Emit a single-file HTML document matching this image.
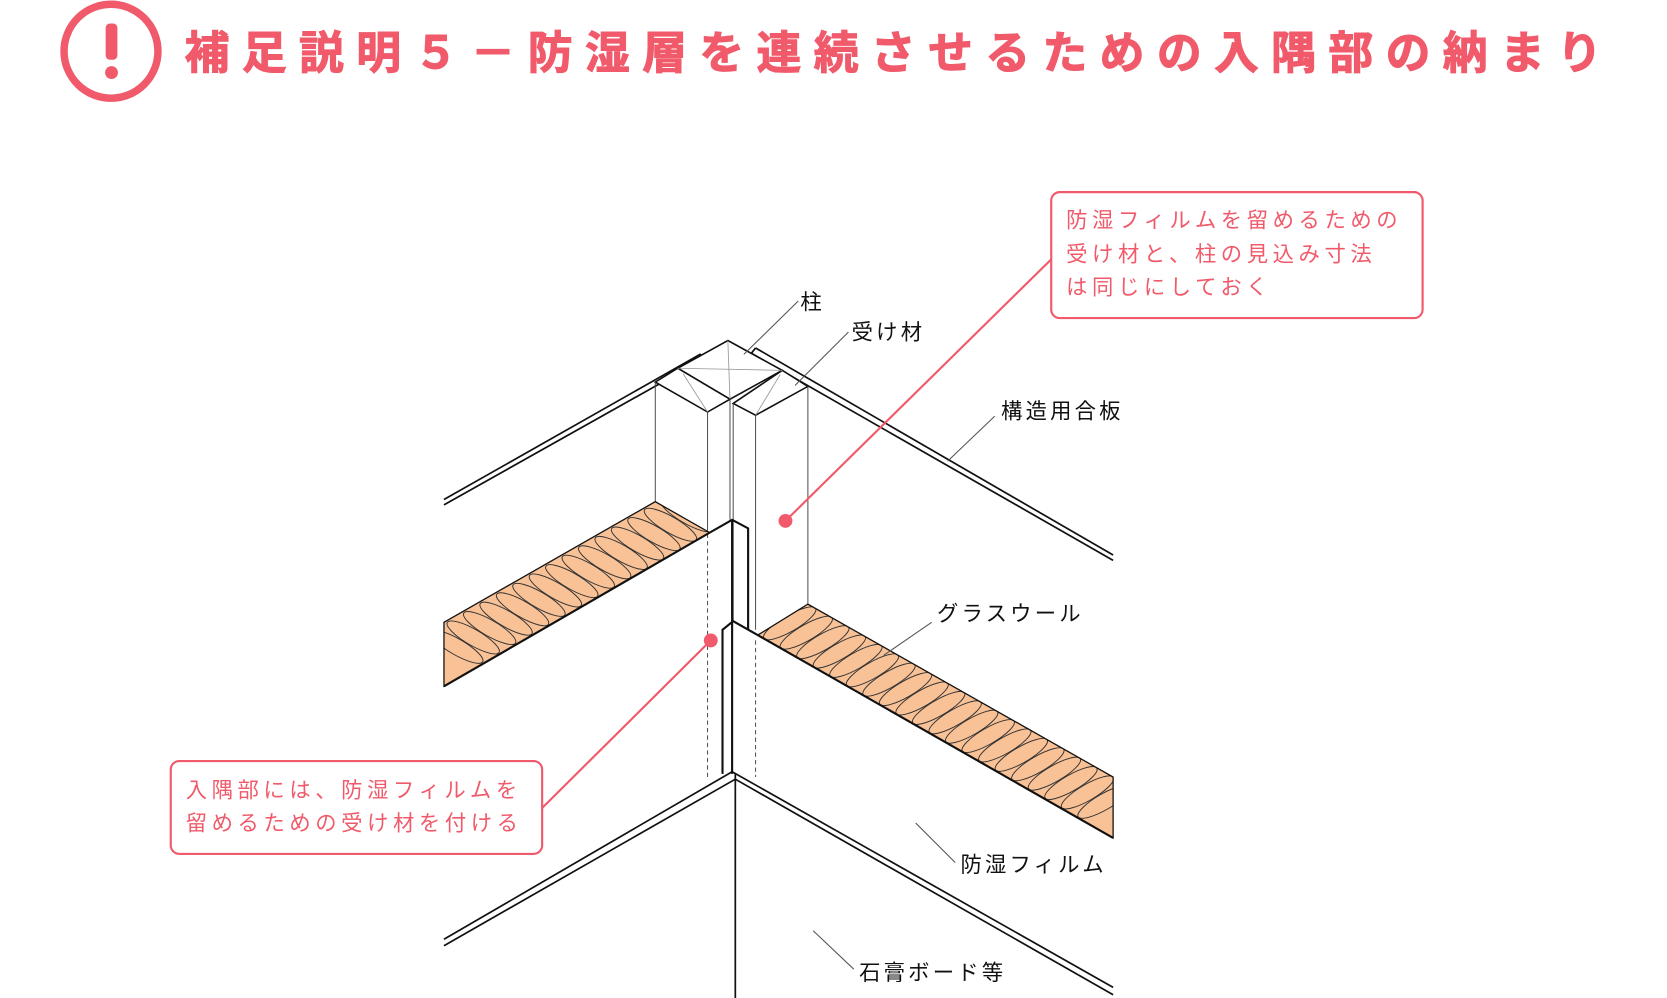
<!DOCTYPE html>
<html><head><meta charset="utf-8"><style>
html,body{margin:0;padding:0;background:#fff;}
svg{display:block}
text{font-family:"Liberation Sans","Noto Sans CJK JP",sans-serif;}
</style></head><body>
<svg width="1667" height="998" viewBox="0 0 1562 935" preserveAspectRatio="none" xmlns="http://www.w3.org/2000/svg">
<defs>
<clipPath id="cl"><polygon points="416,583 614,470 665,499 416,643"/></clipPath>
<clipPath id="cr"><polygon points="710,595 757,566 1043,728 1043,785"/></clipPath>
</defs>
<!-- title -->
<circle cx="104" cy="48" r="44" fill="none" stroke="#f05a6a" stroke-width="7"/>
<rect x="99" y="22" width="11" height="34" rx="4" fill="#f05a6a"/>
<circle cx="104.5" cy="68" r="6" fill="#f05a6a"/>
<text x="173" y="64" font-size="42" font-weight="bold" fill="#f05a6a" letter-spacing="11.6" stroke="#f05a6a" stroke-width="1">補足説明５－防湿層を連続させるための入隅部の納まり</text>

<g fill="none" stroke="#111" stroke-width="1.6">
<polyline points="416,468 656,332 660,336 416,473"/>
<polyline points="708,326 1043,520"/>
<polyline points="704,331 1043,525"/>
<polyline points="708,326 704,331"/>
</g>
<g fill="#fff" stroke="#111" stroke-width="1.5">
<polygon points="682,319 733,347 684,374 635,345"/>
<polygon points="614,358 635,345 684,374 663,386"/>
<polygon points="687,378 733,347 757,362 708,389"/>
</g>
<g stroke="#999" stroke-width="0.8" fill="none">
<line x1="682" y1="319" x2="684" y2="374"/>
<line x1="635" y1="345" x2="733" y2="347"/>
<line x1="640" y1="350" x2="663" y2="386"/>
<line x1="731" y1="351" x2="708" y2="389"/>
</g>
<g stroke="#444" stroke-width="0.9" fill="none">
<line x1="614" y1="358" x2="614" y2="470"/>
<line x1="663" y1="386" x2="663" y2="497"/>
<line x1="684" y1="374" x2="684" y2="487"/>
<line x1="687" y1="378" x2="687" y2="582"/>
<line x1="708" y1="389" x2="708" y2="590"/>
<line x1="757" y1="362" x2="757" y2="566"/>
<line x1="663" y1="500" x2="663" y2="728" stroke-dasharray="4,3"/>
<line x1="708" y1="600" x2="708" y2="728" stroke-dasharray="4,3"/>
</g>
<!-- insulation left -->
<polygon points="416,583 614,470 665,499 416,643" fill="#f9c196"/>
<g clip-path="url(#cl)" fill="none" stroke="#333" stroke-width="0.9">
<g transform="translate(428,606)"><ellipse rx="28" ry="7.5" transform="rotate(30)"/></g>
<g transform="translate(443.4,597.2)"><ellipse rx="28" ry="7.5" transform="rotate(30)"/></g>
<g transform="translate(458.8,588.4)"><ellipse rx="28" ry="7.5" transform="rotate(30)"/></g>
<g transform="translate(474.2,579.6)"><ellipse rx="28" ry="7.5" transform="rotate(30)"/></g>
<g transform="translate(489.6,570.8)"><ellipse rx="28" ry="7.5" transform="rotate(30)"/></g>
<g transform="translate(505,562)"><ellipse rx="28" ry="7.5" transform="rotate(30)"/></g>
<g transform="translate(520.4,553.2)"><ellipse rx="28" ry="7.5" transform="rotate(30)"/></g>
<g transform="translate(535.8,544.4)"><ellipse rx="28" ry="7.5" transform="rotate(30)"/></g>
<g transform="translate(551.2,535.6)"><ellipse rx="28" ry="7.5" transform="rotate(30)"/></g>
<g transform="translate(566.6,526.8)"><ellipse rx="28" ry="7.5" transform="rotate(30)"/></g>
<g transform="translate(582,518)"><ellipse rx="28" ry="7.5" transform="rotate(30)"/></g>
<g transform="translate(597.4,509.2)"><ellipse rx="28" ry="7.5" transform="rotate(30)"/></g>
<g transform="translate(612.8,500.4)"><ellipse rx="28" ry="7.5" transform="rotate(30)"/></g>
<g transform="translate(628.2,491.6)"><ellipse rx="28" ry="7.5" transform="rotate(30)"/></g>
<g transform="translate(643.6,482.8)"><ellipse rx="28" ry="7.5" transform="rotate(30)"/></g>
</g>
<polygon points="416,583 614,470 665,499 416,643" fill="none" stroke="#111" stroke-width="1.2"/>
<line x1="416" y1="643" x2="665" y2="499" stroke="#111" stroke-width="2"/>
<!-- insulation right -->
<polygon points="710,595 757,566 1043,728 1043,785" fill="#f9c196"/>
<g clip-path="url(#cr)" fill="none" stroke="#333" stroke-width="0.9">
<g transform="translate(740,584)"><ellipse rx="28" ry="7.5" transform="rotate(-30)"/></g>
<g transform="translate(755.5,592.8)"><ellipse rx="28" ry="7.5" transform="rotate(-30)"/></g>
<g transform="translate(771,601.6)"><ellipse rx="28" ry="7.5" transform="rotate(-30)"/></g>
<g transform="translate(786.5,610.4)"><ellipse rx="28" ry="7.5" transform="rotate(-30)"/></g>
<g transform="translate(802,619.2)"><ellipse rx="28" ry="7.5" transform="rotate(-30)"/></g>
<g transform="translate(817.5,628)"><ellipse rx="28" ry="7.5" transform="rotate(-30)"/></g>
<g transform="translate(833,636.8)"><ellipse rx="28" ry="7.5" transform="rotate(-30)"/></g>
<g transform="translate(848.5,645.6)"><ellipse rx="28" ry="7.5" transform="rotate(-30)"/></g>
<g transform="translate(864,654.4)"><ellipse rx="28" ry="7.5" transform="rotate(-30)"/></g>
<g transform="translate(879.5,663.2)"><ellipse rx="28" ry="7.5" transform="rotate(-30)"/></g>
<g transform="translate(895,672)"><ellipse rx="28" ry="7.5" transform="rotate(-30)"/></g>
<g transform="translate(910.5,680.8)"><ellipse rx="28" ry="7.5" transform="rotate(-30)"/></g>
<g transform="translate(926,689.6)"><ellipse rx="28" ry="7.5" transform="rotate(-30)"/></g>
<g transform="translate(941.5,698.4)"><ellipse rx="28" ry="7.5" transform="rotate(-30)"/></g>
<g transform="translate(957,707.2)"><ellipse rx="28" ry="7.5" transform="rotate(-30)"/></g>
<g transform="translate(972.5,716)"><ellipse rx="28" ry="7.5" transform="rotate(-30)"/></g>
<g transform="translate(988,724.8)"><ellipse rx="28" ry="7.5" transform="rotate(-30)"/></g>
<g transform="translate(1003.5,733.6)"><ellipse rx="28" ry="7.5" transform="rotate(-30)"/></g>
<g transform="translate(1019,742.4)"><ellipse rx="28" ry="7.5" transform="rotate(-30)"/></g>
<g transform="translate(1034.5,751.2)"><ellipse rx="28" ry="7.5" transform="rotate(-30)"/></g>
</g>
<polygon points="710,595 757,566 1043,728 1043,785" fill="none" stroke="#111" stroke-width="1.2"/>
<line x1="710" y1="595" x2="1043" y2="785" stroke="#111" stroke-width="2"/>
<!-- film -->
<g fill="none" stroke="#111" stroke-width="2">
<polyline points="665,499 686,487 701,495 701,590"/>
<polyline points="677,725 677,590 687,582 710,595"/>
<line x1="686" y1="487" x2="686" y2="725"/>
</g>
<!-- gypsum -->
<g fill="none" stroke="#111" stroke-width="1.6">
<polyline points="416,880 686,723 1043,925"/>
<polyline points="416,886 689,730 1043,932"/>
<line x1="689" y1="725" x2="689" y2="937"/>
</g>
<g stroke="#555" stroke-width="1">
<line x1="748" y1="282" x2="697" y2="332"/>
<line x1="795" y1="311" x2="745" y2="361"/>
<line x1="932" y1="390" x2="888" y2="432"/>
<line x1="873" y1="583" x2="828" y2="614"/>
<line x1="895" y1="808" x2="858" y2="771"/>
<line x1="800" y1="908" x2="762" y2="872"/>
</g>
<g font-size="20" fill="#111" letter-spacing="3">
<text x="750" y="290">柱</text>
<text x="798" y="318">受け材</text>
<text x="938" y="392">構造用合板</text>
<text x="878" y="582">グラスウール</text>
<text x="900" y="817">防湿フィルム</text>
<text x="805" y="918">石膏ボード等</text>
</g>
<g stroke="#f05a6a" stroke-width="2" fill="none">
<rect x="985" y="180" width="348" height="118" rx="8"/>
<rect x="160" y="713" width="348" height="87" rx="8"/>
<line x1="985" y1="243" x2="736" y2="488"/>
<line x1="508" y1="757" x2="666" y2="600"/>
</g>
<circle cx="736" cy="488" r="6.5" fill="#f05a6a"/>
<circle cx="666" cy="600" r="6.5" fill="#f05a6a"/>
<g font-size="20" fill="#f05a6a" letter-spacing="4.3">
<text x="999" y="213">防湿フィルムを留めるための</text>
<text x="999" y="245">受け材と、柱の見込み寸法</text>
<text x="999" y="276">は同じにしておく</text>
<text x="174" y="747">入隅部には、防湿フィルムを</text>
<text x="174" y="778">留めるための受け材を付ける</text>
</g>
</svg>
</body></html>
